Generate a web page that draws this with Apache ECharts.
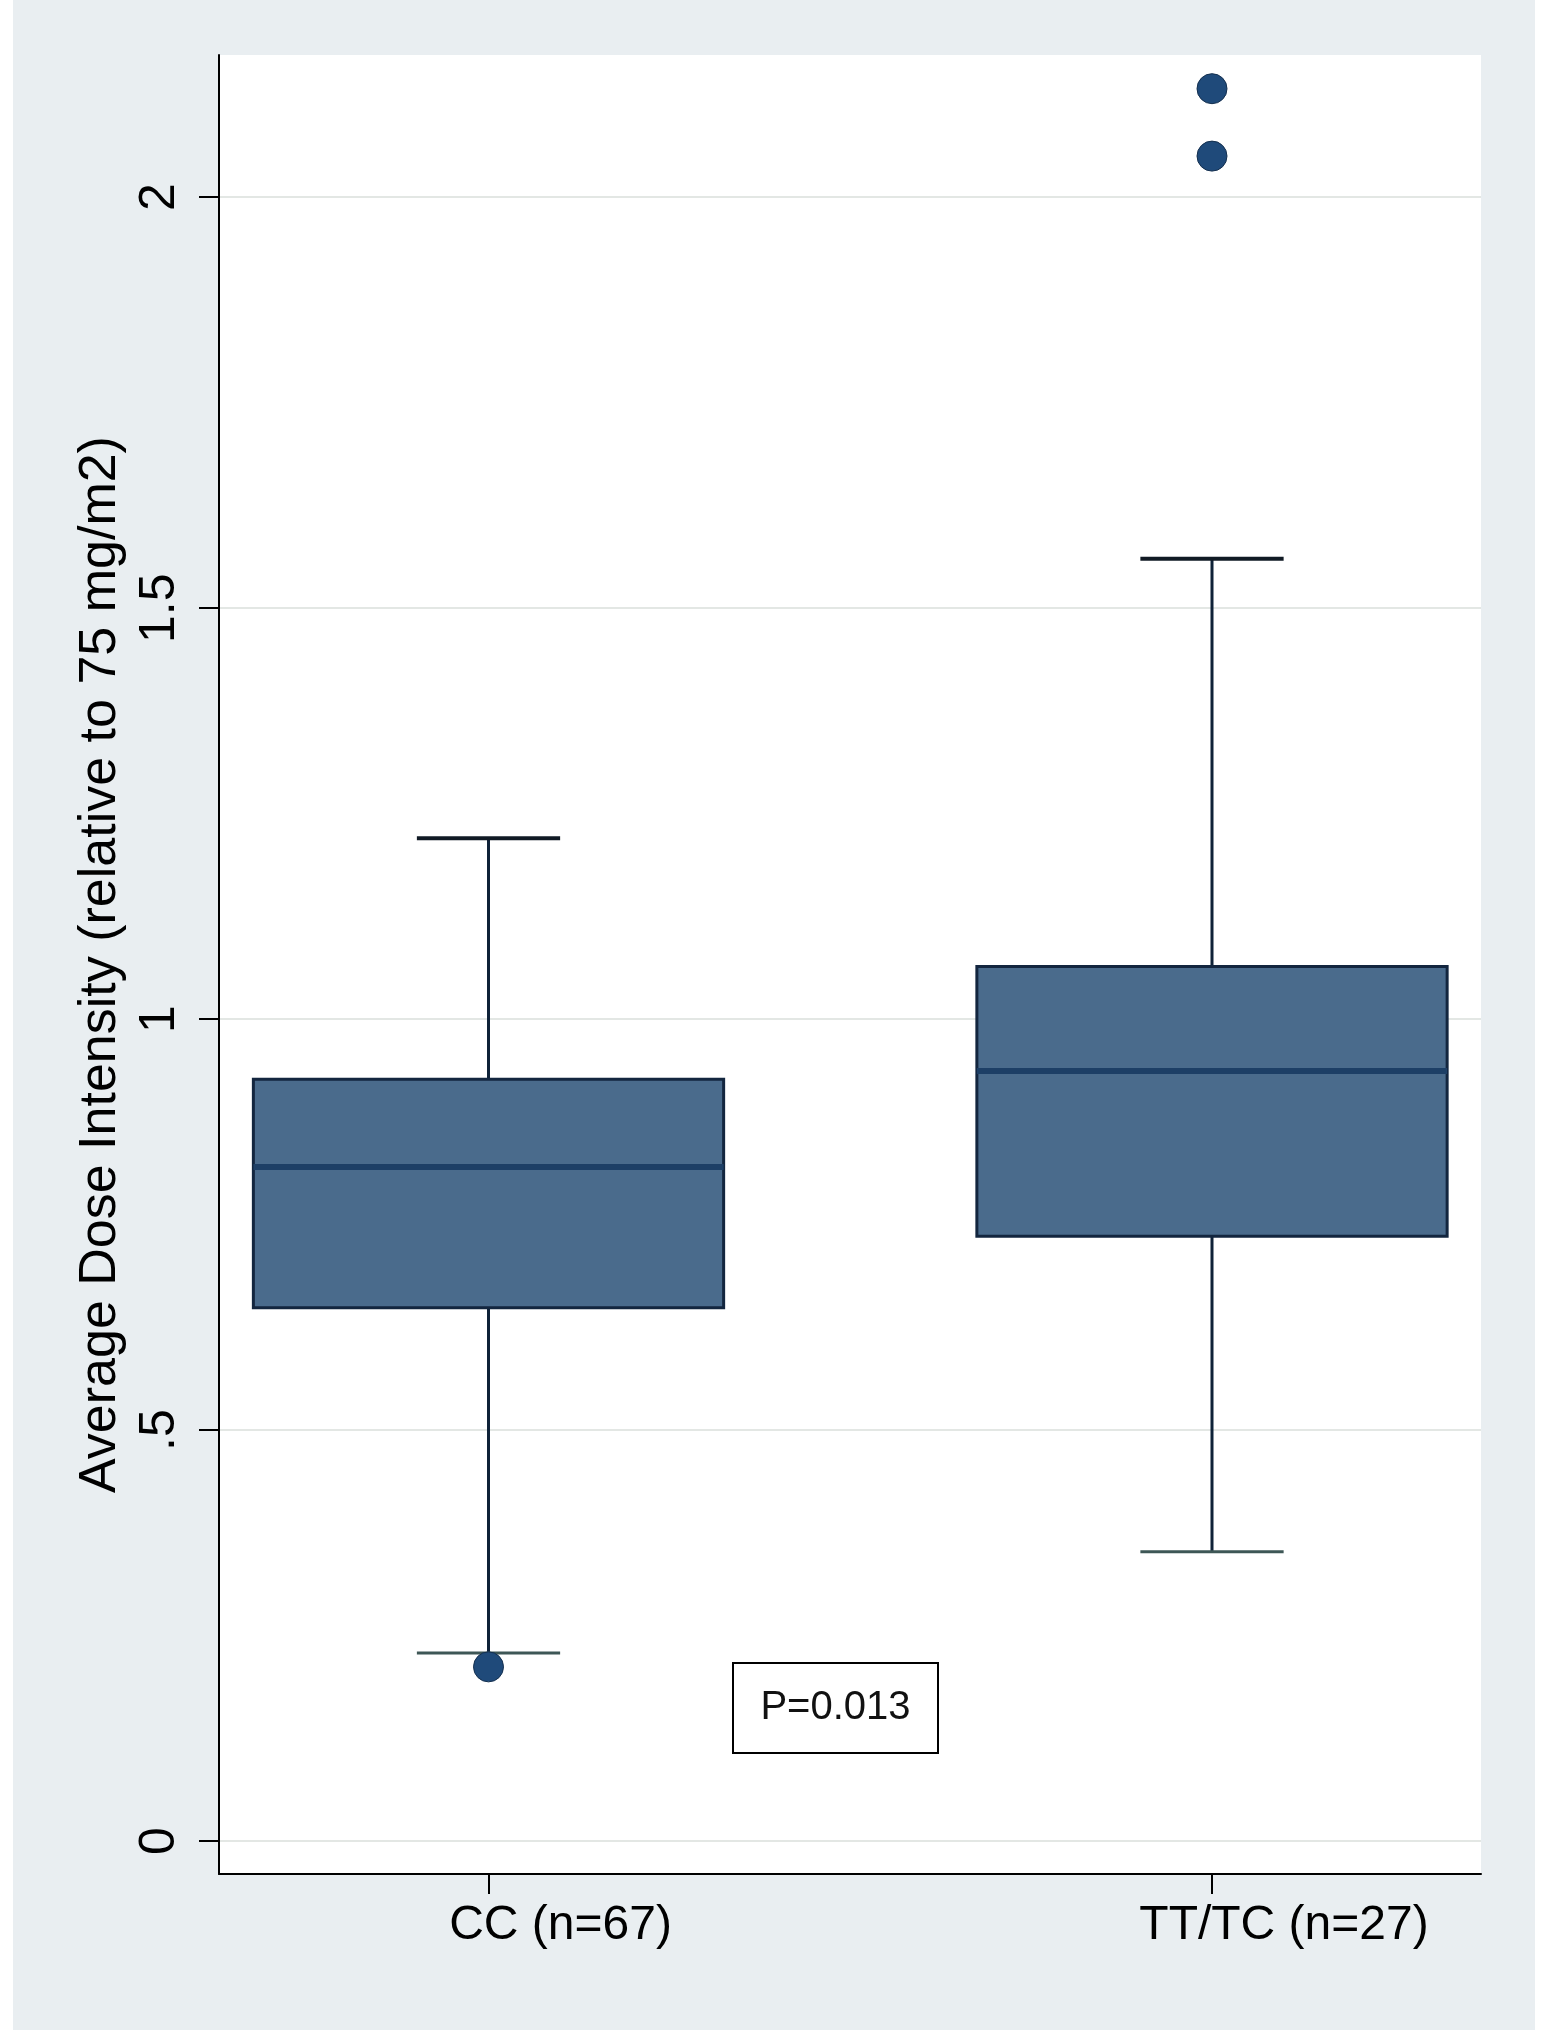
<!DOCTYPE html>
<html>
<head>
<meta charset="utf-8">
<script src="https://cdn.jsdelivr.net/npm/echarts@6/dist/echarts.min.js"></script>
<style>
  html, body { margin: 0; padding: 0; background: #ffffff; }
  #box_chart {
    position: absolute;
    left: 13px;
    top: 0;
    width: 1522px;
    height: 2030px;
  }
</style>
</head>
<body>
<div id="box_chart"></div>
<script>
// 分组
const categories = ['CC (n=67)', 'TT/TC (n=27)'];
// 箱线图统计量
const lowerWhisker = [0.229, 0.352];
const q1 = [0.649, 0.736];
const median = [0.820, 0.937];
const q3 = [0.927, 1.064];
const upperWhisker = [1.220, 1.560];
// 离群点 [组, 值]
const outliers = [[0, 0.212], [1, 2.050], [1, 2.132]];
// y轴刻度
const yTicks = [0, 0.5, 1, 1.5, 2];
const yTickLabels = ['0', '.5', '1', '1.5', '2'];

const boxData = categories.map((c, i) => [i, lowerWhisker[i], q1[i], median[i], q3[i], upperWhisker[i]]);

const FONT = '"Liberation Sans", Arial, sans-serif';
const chart = echarts.init(document.getElementById('box_chart'));

function renderBox(params, api) {
  const x = api.value(0);
  const lo = api.coord([x, api.value(1)]);
  const b1 = api.coord([x, api.value(2)]);
  const md = api.coord([x, api.value(3)]);
  const b3 = api.coord([x, api.value(4)]);
  const hi = api.coord([x, api.value(5)]);
  const band = api.size([1, 0])[0];
  const bw = band * 0.65;
  const cw = band * 0.198;
  const cx = lo[0];
  return {
    type: 'group',
    children: [
      { type: 'line', shape: { x1: cx, y1: b1[1], x2: cx, y2: lo[1] }, style: { stroke: '#0f2238', lineWidth: 3 } },
      { type: 'line', shape: { x1: cx, y1: b3[1], x2: cx, y2: hi[1] }, style: { stroke: '#0f2238', lineWidth: 3 } },
      { type: 'line', shape: { x1: cx - cw / 2, y1: hi[1], x2: cx + cw / 2, y2: hi[1] }, style: { stroke: '#111a24', lineWidth: 4 } },
      { type: 'line', shape: { x1: cx - cw / 2, y1: lo[1], x2: cx + cw / 2, y2: lo[1] }, style: { stroke: '#3e5756', lineWidth: 3 } },
      { type: 'rect', shape: { x: cx - bw / 2, y: b3[1], width: bw, height: b1[1] - b3[1] },
        style: { fill: '#4a6b8c', stroke: '#13263f', lineWidth: 3 } },
      { type: 'line', shape: { x1: cx - bw / 2, y1: md[1], x2: cx + bw / 2, y2: md[1] }, style: { stroke: '#1d3f66', lineWidth: 6 } }
    ]
  };
}

const option = {
  animation: false,
  backgroundColor: '#e9eef1',
  grid: {
    left: 206,
    top: 55,
    right: 54,
    bottom: 156,
    show: true,
    backgroundColor: '#ffffff',
    borderWidth: 0
  },
  xAxis: {
    type: 'value',
    min: -0.3725,
    max: 1.3718,
    splitLine: { show: false },
    axisLine: { show: true, onZero: false, lineStyle: { color: '#000', width: 2 } },
    axisTick: { show: true, customValues: [0, 1], length: 20, lineStyle: { color: '#000', width: 2 } },
    axisLabel: {
      customValues: [0, 1],
      formatter: v => categories[Math.round(v)],
      color: '#000',
      fontFamily: FONT,
      fontSize: 48,
      margin: 28,
      padding: [0, 0, 0, 144]
    }
  },
  yAxis: {
    type: 'value',
    min: -0.04,
    max: 2.173,
    splitNumber: 5,
    name: 'Average Dose Intensity (relative to 75 mg/m2)',
    nameLocation: 'middle',
    nameGap: 90,
    nameTextStyle: { color: '#000', fontFamily: FONT, fontSize: 52 },
    axisLine: { show: true, onZero: false, lineStyle: { color: '#000', width: 2 } },
    axisTick: { show: true, customValues: yTicks, length: 20, lineStyle: { color: '#000', width: 2 } },
    axisLabel: {
      customValues: yTicks,
      formatter: v => yTickLabels[yTicks.indexOf(v)],
      rotate: 90,
      color: '#000',
      fontFamily: FONT,
      fontSize: 50,
      margin: 34
    },
    splitLine: { show: true, lineStyle: { color: '#e3e7e4', width: 2 } }
  },
  series: [
    {
      type: 'custom',
      renderItem: renderBox,
      data: boxData,
      encode: { x: 0, y: [1, 2, 3, 4, 5] },
      z: 3
    },
    {
      type: 'scatter',
      data: outliers,
      symbol: 'circle',
      symbolSize: 30,
      itemStyle: { color: '#1f4a7a', borderColor: '#15304f', borderWidth: 1, opacity: 1 },
      z: 4
    }
  ],
  graphic: [
    {
      type: 'group',
      left: 719,
      top: 1662,
      children: [
        { type: 'rect', shape: { x: 0, y: 0, width: 205, height: 90 }, style: { fill: '#fff', stroke: '#000', lineWidth: 2 } },
        { type: 'text', x: 102.5, y: 45, style: { text: 'P=0.013', fill: '#111', font: '40px ' + FONT, align: 'center', verticalAlign: 'middle' } }
      ]
    }
  ]
};

chart.setOption(option);
</script>
</body>
</html>
